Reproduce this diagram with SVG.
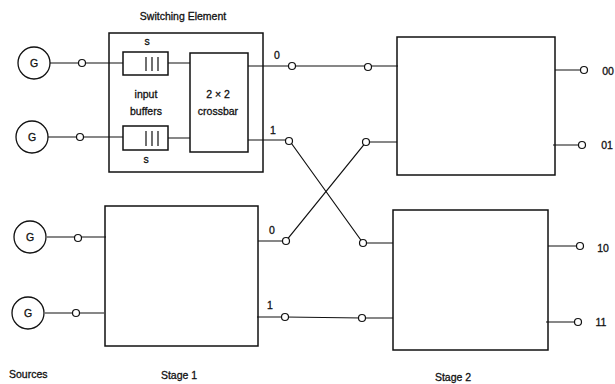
<svg xmlns="http://www.w3.org/2000/svg" width="615" height="384" viewBox="0 0 615 384">
<style>
.box{fill:none;stroke:#111;stroke-width:1.5}
.ln{fill:none;stroke:#111;stroke-width:1.2}
.pt{fill:#fff;stroke:#111;stroke-width:1.2}
.src{fill:#fff;stroke:#111;stroke-width:1.3}
text{font-family:"Liberation Sans",Arial,sans-serif;font-size:10.5px;fill:#111;stroke:#111;stroke-width:0.3}
.m{text-anchor:middle}
</style>
<rect width="615" height="384" fill="#fff"/>
<g id="connectors">
<path class="ln" d="M50,63H123M168,63H190M248,66H368H398"/>
<path class="ln" d="M48,137H123M168,138H190M248,140H289L363,243H393"/>
<path class="ln" d="M47,237H106M258,241H286L366,142H397"/>
<path class="ln" d="M45,313H104M257,317H285L362,318H393"/>
<path class="ln" d="M555,70H584M553,145H582M548,246H580M546,322H578"/>
<circle class="pt" cx="82" cy="63" r="3.5"/>
<circle class="pt" cx="80" cy="137" r="3.5"/>
<circle class="pt" cx="78" cy="238" r="3.5"/>
<circle class="pt" cx="76" cy="313" r="3.5"/>
<circle class="pt" cx="292" cy="66" r="3.5"/>
<circle class="pt" cx="368" cy="67" r="3.5"/>
<circle class="pt" cx="289" cy="141" r="3.5"/>
<circle class="pt" cx="366" cy="142" r="3.5"/>
<circle class="pt" cx="286" cy="241" r="3.5"/>
<circle class="pt" cx="363" cy="243" r="3.5"/>
<circle class="pt" cx="285" cy="317" r="3.5"/>
<circle class="pt" cx="362" cy="318" r="3.5"/>
<circle class="pt" cx="584" cy="70" r="3.5"/>
<circle class="pt" cx="582" cy="145" r="3.5"/>
<circle class="pt" cx="580" cy="246" r="3.5"/>
<circle class="pt" cx="578" cy="322" r="3.5"/>
<text x="277" y="59" class="m">0</text>
<text x="273" y="134" class="m">1</text>
<text x="272" y="234" class="m">0</text>
<text x="270" y="309" class="m">1</text>
</g>
<g id="src1"><circle class="src" cx="34" cy="63" r="16"/><text x="34" y="67" class="m">G</text></g>
<g id="src2"><circle class="src" cx="32" cy="137" r="16"/><text x="32" y="141" class="m">G</text></g>
<g id="src3"><circle class="src" cx="30" cy="237" r="16"/><text x="30" y="241" class="m">G</text></g>
<g id="src4"><circle class="src" cx="28" cy="313" r="16"/><text x="28" y="317" class="m">G</text></g>
<g id="switching-element">
<text x="183" y="20" class="m">Switching Element</text>
<rect class="box" x="109" y="33" width="154" height="139"/>
<rect class="box" x="123" y="52" width="45" height="23"/>
<path class="ln" d="M146,57V71M152,57V71M158,57V71"/>
<rect class="box" x="123" y="126" width="45" height="24"/>
<path class="ln" d="M146,131V146M152,131V146M158,131V146"/>
<text x="147" y="45" class="m">s</text>
<text x="146" y="163" class="m">s</text>
<text x="146" y="98" class="m">input</text>
<text x="146" y="115" class="m">buffers</text>
<rect class="box" x="190" y="53" width="58" height="99"/>
<text x="218" y="98" class="m">2 × 2</text>
<text x="218" y="115" class="m">crossbar</text>
</g>
<g id="stage1-lower"><rect class="box" x="105" y="206" width="153" height="140"/></g>
<g id="stage2-upper"><rect class="box" x="397" y="37" width="158" height="138"/></g>
<g id="stage2-lower"><rect class="box" x="393" y="210" width="155" height="140"/></g>
<g id="labels">
<text x="608" y="75" class="m">00</text>
<text x="607" y="149" class="m">01</text>
<text x="603" y="252" class="m">10</text>
<text x="601" y="326" class="m">11</text>
<text x="9" y="378">Sources</text>
<text x="179" y="379" class="m">Stage 1</text>
<text x="453" y="381" class="m">Stage 2</text>
</g>
</svg>
